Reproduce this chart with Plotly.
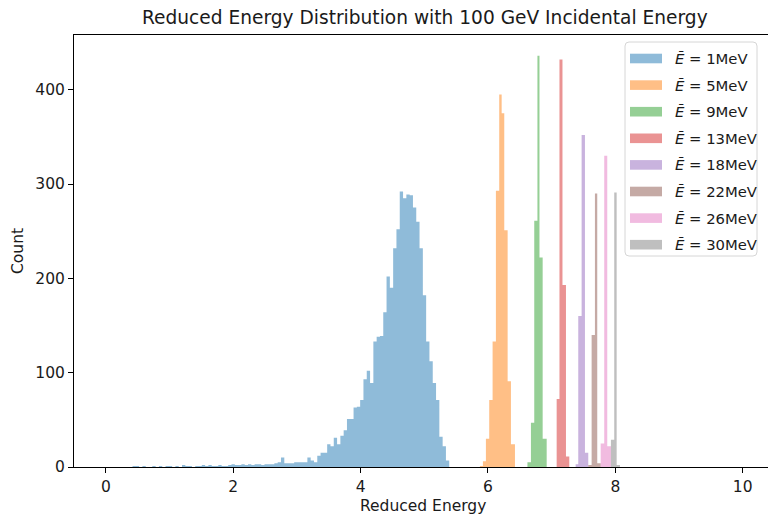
import plotly.graph_objects as go

# ---------------- data ----------------
energies_mev = [1, 5, 9, 13, 18, 22, 26, 30]
colors = ["#1f77b4", "#ff7f0e", "#2ca02c", "#d62728",
          "#9467bd", "#8c564b", "#e377c2", "#7f7f7f"]

blue_start = 0.212
blue_width = 0.0518
blue_counts = [0, 0, 0, 0, 1, 1, 0, 1, 0, 0,
               1, 0, 1, 0, 1, 1, 0, 1, 0, 2,
               1, 1, 0, 1, 1, 2, 1, 2, 1, 1,
               2, 1, 1, 2, 3, 2, 2, 3, 2, 3,
               2, 3, 3, 2, 3, 3, 3, 4, 5, 10,
               4, 4, 4, 5, 5, 5, 5, 10, 7, 5,
               12, 15, 15, 24, 22, 31, 24, 33, 39, 51,
               51, 63, 64, 71, 93, 102, 89, 133, 138, 139,
               164, 202, 190, 232, 252, 292, 285, 289, 288, 275,
               260, 232, 182, 133, 112, 89, 71, 32, 22, 7]

orange_edges = [5.874, 5.921, 5.968, 6.020, 6.073, 6.125, 6.177, 6.215, 6.256, 6.309, 6.361, 6.424]
orange_counts = [1, 6, 30, 71, 133, 293, 395, 375, 251, 91, 24]
green_edges = [6.620, 6.675, 6.727, 6.777, 6.809, 6.859, 6.922]
green_counts = [5, 47, 261, 436, 222, 30]
red_edges = [7.079, 7.123, 7.170, 7.225, 7.277]
red_counts = [72, 432, 193, 11]
purple_edges = [7.377, 7.418, 7.471, 7.523, 7.575]
purple_counts = [3, 160, 352, 15]
brown_edges = [7.575, 7.628, 7.680, 7.716, 7.770]
brown_counts = [2, 140, 290, 4]
pink_edges = [7.770, 7.826, 7.873, 7.931]
pink_counts = [25, 330, 22]
gray_edges = [7.931, 7.983, 8.021, 8.073]
gray_counts = [29, 291, 2]

x_ticks = [0, 2, 4, 6, 8, 10]
y_ticks = [0, 100, 200, 300, 400]

title_text = "Reduced Energy Distribution with 100 GeV Incidental Energy"
x_title = "Reduced Energy"
y_title = "Count"

# ---------------- build ----------------
blue_edges = [blue_start + i * blue_width for i in range(len(blue_counts) + 1)]
series = [
    (blue_edges, blue_counts),
    (orange_edges, orange_counts),
    (green_edges, green_counts),
    (red_edges, red_counts),
    (purple_edges, purple_counts),
    (brown_edges, brown_counts),
    (pink_edges, pink_counts),
    (gray_edges, gray_counts),
]

W, H = 768, 516
ML, MR, MT, MB = 74, 0, 35, 49
PW = W - ML - MR
PH = H - MT - MB
FONT = "DejaVu Sans"
TXT = "#1a1a1a"
FS = 15.5


def rgba(hex_color, a):
    h = hex_color.lstrip("#")
    return f"rgba({int(h[0:2], 16)},{int(h[2:4], 16)},{int(h[4:6], 16)},{a})"


fig = go.Figure()
for (edges, counts), e, c in zip(series, energies_mev, colors):
    # step-filled histogram: one polygon per series (no seams between bins)
    fig.add_trace(go.Scatter(
        x=list(edges), y=list(counts) + [0],
        mode="lines", line=dict(shape="hv", width=0, color=rgba(c, 0)),
        fill="tozeroy", fillcolor=rgba(c, 0.5),
        name=f"E={e}MeV", showlegend=False, hoverinfo="skip",
    ))


def px_x(p):
    return (p - ML) / PW


def px_y(p):
    return (H - MB - p) / PH


shapes = []
annotations = []

r = 4
x0p, x1p, y0p, y1p = 625, 757, 42, 256


def pt(xp, yp):
    return f"{px_x(xp)},{px_y(yp)}"


path = (f"M {pt(x0p + r, y0p)} L {pt(x1p - r, y0p)} Q {pt(x1p, y0p)} {pt(x1p, y0p + r)} "
        f"L {pt(x1p, y1p - r)} Q {pt(x1p, y1p)} {pt(x1p - r, y1p)} "
        f"L {pt(x0p + r, y1p)} Q {pt(x0p, y1p)} {pt(x0p, y1p - r)} "
        f"L {pt(x0p, y0p + r)} Q {pt(x0p, y0p)} {pt(x0p + r, y0p)} Z")
shapes.append(dict(type="path", xref="paper", yref="paper", path=path,
                   line=dict(color="#d6d6d6", width=1), fillcolor="rgba(255,255,255,0.8)"))

row0, row_step = 58.5, 26.6
for k, (e, c) in enumerate(zip(energies_mev, colors)):
    yc = row0 + k * row_step
    shapes.append(dict(type="rect", xref="paper", yref="paper",
                       x0=px_x(630), x1=px_x(662), y0=px_y(yc + 4.8), y1=px_y(yc - 4.8),
                       line=dict(width=0), fillcolor=c, opacity=0.5))
    annotations.append(dict(xref="paper", yref="paper", x=px_x(673), y=px_y(yc),
                            xanchor="left", yanchor="middle", showarrow=False,
                            text=f"<i>Ē</i> = {e}MeV",
                            font=dict(family=FONT, size=14.8, color=TXT)))

annotations.append(dict(xref="paper", yref="paper", x=px_x(423), y=px_y(506),
                        xanchor="center", yanchor="middle", showarrow=False,
                        text=x_title, font=dict(family=FONT, size=FS, color=TXT)))
annotations.append(dict(xref="paper", yref="paper", x=px_x(18), y=px_y(251),
                        xanchor="center", yanchor="middle", showarrow=False, textangle=-90,
                        text=y_title, font=dict(family=FONT, size=FS, color=TXT)))
annotations.append(dict(xref="paper", yref="paper", x=px_x(424.5), y=px_y(18),
                        xanchor="center", yanchor="middle", showarrow=False,
                        text=title_text, font=dict(family=FONT, size=18.6, color=TXT)))

fig.update_layout(
    width=W, height=H,
    margin=dict(l=ML, r=MR, t=MT, b=MB, pad=0),
    paper_bgcolor="white", plot_bgcolor="white",
    shapes=shapes, annotations=annotations,
    font=dict(family=FONT, size=FS, color=TXT),
    xaxis=dict(range=[-0.5, (W - 106) / 63.67], tickvals=x_ticks,
               showgrid=False, zeroline=False,
               showline=True, linecolor="#000", linewidth=1, mirror=True,
               ticks="outside", ticklen=5, tickcolor="#000", tickwidth=1,
               tickfont=dict(family=FONT, size=FS, color=TXT)),
    yaxis=dict(range=[0, 458], tickvals=y_ticks,
               showgrid=False, zeroline=False,
               showline=True, linecolor="#000", linewidth=1,
               ticks="outside", ticklen=5, tickcolor="#000", tickwidth=1,
               tickfont=dict(family=FONT, size=FS, color=TXT)),
)

fig.write_html("out.html")
